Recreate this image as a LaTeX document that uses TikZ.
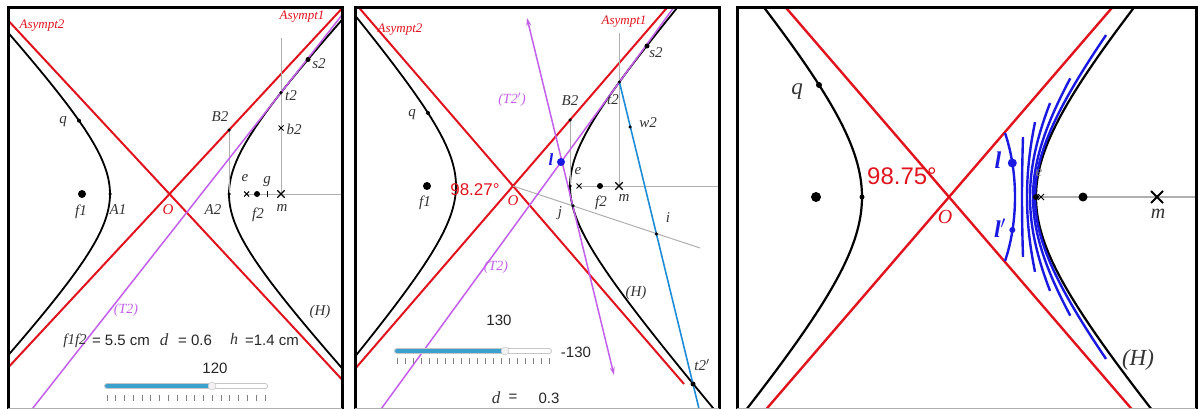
\documentclass[tikz,border=0pt]{standalone}
\usepackage{fontspec}
\setmainfont{Liberation Serif}
\setsansfont{Liberation Sans}
\usetikzlibrary{shapes.misc,arrows.meta}
\newcommand\fsz[1]{\fontsize{#1}{#1}\selectfont}
\definecolor{ared}{RGB}{225,20,30}
\definecolor{tpurp}{RGB}{195,95,235}
\definecolor{lblue}{RGB}{30,140,215}
\definecolor{dblue}{RGB}{25,25,225}
\definecolor{lgray}{RGB}{175,175,175}
\definecolor{sblue}{RGB}{60,160,205}
\begin{document}
\begin{tikzpicture}[x=1pt,y=-1pt,
  asym/.style={draw=ared,line width=2pt},
  hyp/.style={draw=black,line width=1.8pt},
  gline/.style={draw=lgray,line width=1pt},
  purp/.style={draw=tpurp,line width=1.5pt},
  frm/.style={draw=black,line width=3pt},
  dot/.style={circle,fill=black,inner sep=0pt,minimum size=4pt},
  bigdot/.style={circle,fill=black,inner sep=0pt,minimum size=8pt},
  crossmk/.style={cross out,draw=black,line width=1.3pt,inner sep=0pt,minimum size=6pt},
  smallx/.style={cross out,draw=black,line width=1pt,inner sep=0pt,minimum size=4pt},
  lab/.style={font=\fsz{15}\itshape,text=black!80,inner sep=0pt},
  rlab/.style={font=\fsz{13}\itshape,text=ared,inner sep=0pt},
  num/.style={font=\fsz{15}\sffamily,text=black!85,inner sep=0pt},
  bcurve/.style={draw=dblue,line width=2.4pt}]
\useasboundingbox (0,0) rectangle (1198,409);
\fill[white] (0,0) rectangle (1198,409);

% ================= PANEL 1 =================
\coordinate (O1) at (169.5,194);
\coordinate (A1a) at (110,194);
\coordinate (A2a) at (229,194);
\coordinate (B2a) at (229,130);
\coordinate (t2a) at (281,92.6);
\coordinate (s2a) at (308,59.5);
\coordinate (qa) at (79,120.7);
\coordinate (f1a) at (82,194);
\coordinate (f2a) at (257,194);
\coordinate (ea) at (246.7,194);
\coordinate (ga) at (267,194);
\coordinate (ma) at (281,194);
\coordinate (b2a) at (281,128);
\coordinate (vtopa) at (281,38);
\coordinate (rfa) at (342,194);
\coordinate (T2ua) at (375.3,-27.3);
\coordinate (T2da) at (-1.9,452.3);
\begin{scope}
\clip (8,8) rectangle (342,409);
\draw[asym] ({169.5-3*59.5},{194+3*64}) -- ({169.5+3*59.5},{194-3*64});
\draw[asym] ({169.5-3*59.5},{194-3*64}) -- ({169.5+3*59.5},{194+3*64});
\draw[hyp] plot[domain=-2.3:2.3,samples=90,variable=\t] ({169.5+59.5*cosh(\t)},{194+64*sinh(\t)});
\draw[hyp] plot[domain=-2.3:2.3,samples=90,variable=\t] ({169.5-59.5*cosh(\t)},{194+64*sinh(\t)});
\draw[gline] (B2a) -- (A2a);
\draw[gline] (vtopa) -- (ma);
\draw[gline] (ea) -- (rfa);
\draw[purp] (T2ua) -- (T2da);
\end{scope}
\draw[frm] (8,412) -- (8,8) -- (342,8) -- (342,412);
\node[dot] (nqa) at (qa) {};
\node[dot,minimum size=3.5pt] (nA1a) at (A1a) {};
\node[dot,minimum size=3.5pt] (nA2a) at (A2a) {};
\node[dot,minimum size=3.5pt] (nB2a) at (B2a) {};
\node[dot,minimum size=3.5pt] (nt2a) at (t2a) {};
\node[dot,minimum size=5pt] (ns2a) at (s2a) {};
\node[bigdot] (nf1a) at (f1a) {};
\node[dot,minimum size=6pt] (nf2a) at (f2a) {};
\node[smallx] (nea) at (ea) {};
\draw[line width=1pt] (ga) ++(0,-3) -- ++(0,6);
\node[crossmk] (nma) at (ma) {};
\node[smallx] (nb2a) at (b2a) {};
\node[rlab] (lAs2a) at (42,26) {Asympt2};
\node[rlab] (lAs1a) at (302,17) {Asympt1};
\node[lab] (ls2a) at (319,64) {s2};
\node[lab] (lt2a) at (291,96) {t2};
\node[lab] (lB2a) at (220,117) {B2};
\node[lab] (lb2a) at (294,129) {b2};
\node[lab] (lqa) at (63,122) {q};
\node[lab] (lf1a) at (81,212) {f1};
\node[lab] (lA1a) at (118,210) {A1};
\node[lab,text=ared] (lOa) at (168,210) {O};
\node[lab] (lA2a) at (213,210) {A2};
\node[lab] (lf2a) at (258,215) {f2};
\node[lab] (lma) at (282,208) {m};
\node[lab] (lea) at (245,178) {e};
\node[lab] (lga) at (267,182) {g};
\node[lab] (lHa) at (320,312) {(H)};
\node[lab,font=\fsz{14}\itshape,text=tpurp] (lT2a) at (126,310) {(T2)};
\node[lab] (lf1f2) at (75,341) {f1f2};
\node[num] (lv1) at (121,340) {= 5.5 cm};
\node[lab,font=\fsz{17}\itshape] (ld1) at (164,340) {d};
\node[num] (lv2) at (195,340) {= 0.6};
\node[lab,font=\fsz{16}\itshape] (lh1) at (234,339) {h};
\node[num] (lv3) at (272,340) {=1.4 cm};
\node[num] (l120) at (215,368) {120};
\draw[line width=6pt,line cap=round,draw=gray!45] (107,386) -- (265,386);
\draw[line width=4pt,line cap=round,draw=white] (107,386) -- (265,386);
\draw[line width=4pt,line cap=round,draw=sblue] (107,386) -- (212,386);
\node[circle,fill=gray!10,draw=gray!50,inner sep=0pt,minimum size=8pt] (kn1) at (212,386) {};
\foreach \i in {0,...,18} \draw[gray,line width=0.8pt] ({107+\i*158/18},395) -- ++(0,6);

% ================= PANEL 2 =================
\coordinate (O2) at (513,186);
\coordinate (B2b) at (570,120);
\coordinate (A2b) at (570,186);
\coordinate (t2b) at (619.4,82);
\coordinate (s2b) at (647,46);
\coordinate (w2b) at (630,127);
\coordinate (qb) at (428,113);
\coordinate (f1b) at (427,186);
\coordinate (f2b) at (600,186);
\coordinate (eb) at (579,186);
\coordinate (mb) at (619,186);
\coordinate (lb) at (561,162);
\coordinate (jb) at (573,205.9);
\coordinate (ib) at (656.4,234);
\coordinate (t2pb) at (693,384);
\coordinate (vtopb) at (619,33);
\coordinate (rfb) at (719,186);
\coordinate (gendb) at (700,248);
\coordinate (T2ub) at (709.2,-41.2);
\coordinate (T2db) at (350,451.6);
\coordinate (Tpu) at (527,18);
\coordinate (Tpd) at (614,375);
\coordinate (blend) at (707.7,444.4);
\begin{scope}
\clip (355,8) rectangle (719,409);
\draw[asym] ({513-3*57},{186+3*66}) -- ({513+3*57},{186-3*66});
\draw[asym] ({513-3*57},{186-3*66}) -- ({513+3*57},{186+3*66});
\draw[hyp] plot[domain=-2.3:2.3,samples=90,variable=\t] ({513+57*cosh(\t)},{186+66*sinh(\t)});
\draw[hyp] plot[domain=-2.3:2.3,samples=90,variable=\t] ({513-57*cosh(\t)},{186+66*sinh(\t)});
\draw[gline] (B2b) -- (A2b);
\draw[gline] (vtopb) -- (mb);
\draw[gline] (eb) -- (rfb);
\draw[gline] (O2) -- (gendb);
\draw[purp] (T2ub) -- (T2db);
\draw[purp,{Stealth[length=8pt,width=5pt]}-{Stealth[length=8pt,width=5pt]}] (Tpu) -- (Tpd);
\draw[draw=lblue,line width=1.6pt] (t2b) -- (blend);
\end{scope}
\draw[frm] (355,412) -- (355,8) -- (719,8) -- (719,412);
\node[dot] (nqb) at (qb) {};
\node[dot,minimum size=3.5pt] (nA2b) at (A2b) {};
\node[dot,minimum size=3.5pt] (nB2b) at (B2b) {};
\node[dot,minimum size=3.5pt] (nt2b) at (t2b) {};
\node[dot,minimum size=5pt] (ns2b) at (s2b) {};
\node[dot,minimum size=3.5pt] (nw2b) at (w2b) {};
\node[dot,minimum size=3.5pt] (njb) at (jb) {};
\node[dot,minimum size=3.5pt] (nib) at (ib) {};
\node[dot,minimum size=5pt] (nt2pb) at (t2pb) {};
\node[bigdot] (nf1b) at (f1b) {};
\node[dot,minimum size=6pt] (nf2b) at (f2b) {};
\node[smallx] (neb) at (eb) {};
\node[crossmk] (nmb) at (mb) {};
\node[circle,fill=dblue,inner sep=0pt,minimum size=8pt] (nlb) at (lb) {};
\node[rlab] (lAs2b) at (400,30) {Asympt2};
\node[rlab] (lAs1b) at (624,22) {Asympt1};
\node[lab] (ls2b) at (656,53) {s2};
\node[lab] (lt2b) at (613,100) {t2};
\node[lab] (lB2b) at (570,101) {B2};
\node[lab] (lw2b) at (648,123) {w2};
\node[lab] (lqb) at (412,115) {q};
\node[lab] (leb) at (578,171) {e};
\node[num,font=\fsz{17}\sffamily,text=ared] (ang2) at (475,190) {98.27°};
\node[lab,text=ared] (lOb) at (513,201) {O};
\node[lab] (lf1b) at (425,203) {f1};
\node[lab] (ljb) at (560,213) {j};
\node[lab] (lf2b) at (601,203) {f2};
\node[lab] (lmb) at (624,198) {m};
\node[lab] (lib) at (668,218) {i};
\node[lab] (lHb) at (636,293) {(H)};
\node[lab] (lt2pb) at (702,365) {t2$'$};
\node[lab,font=\fsz{14}\itshape,text=tpurp] (lT2pb) at (512,100) {(T2$'$)};
\node[lab,font=\fsz{14}\itshape,text=tpurp] (lT2b) at (496,267) {(T2)};
\node[lab,font=\fsz{17}\bfseries\itshape,text=dblue] (llb) at (551,160) {l};
\node[num] (l130) at (499,320) {130};
\node[num] (lm130) at (576,352) {-130};
\draw[line width=6pt,line cap=round,draw=gray!45] (397,351) -- (549,351);
\draw[line width=4pt,line cap=round,draw=white] (397,351) -- (549,351);
\draw[line width=4pt,line cap=round,draw=sblue] (397,351) -- (505,351);
\node[circle,fill=gray!10,draw=gray!50,inner sep=0pt,minimum size=8pt] (kn2) at (505,351) {};
\foreach \i in {0,...,19} \draw[gray,line width=0.8pt] ({397+\i*152/19},358) -- ++(0,6);
\node[lab,font=\fsz{17}\itshape] (ld2) at (496,398) {d};
\node[num] (leq2) at (513,398) {=};
\node[num] (lv4) at (549,398) {0.3};

% ================= PANEL 3 =================
\coordinate (O3) at (949,197);
\coordinate (qc) at (819,85);
\coordinate (A1c) at (862,197);
\coordinate (f1c) at (816,197);
\coordinate (ec) at (1036,197);
\coordinate (exc) at (1041,197);
\coordinate (f2c) at (1083,197);
\coordinate (mc) at (1157,197);
\coordinate (rfc) at (1196,197);
\coordinate (lc) at (1012.3,163);
\coordinate (lpc) at (1012.3,230);
\begin{scope}
\clip (737,8) rectangle (1196,409);
\draw[asym,line width=2.4pt] ({949-3*87},{197+3*101}) -- ({949+3*87},{197-3*101});
\draw[asym,line width=2.4pt] ({949-3*87},{197-3*101}) -- ({949+3*87},{197+3*101});
\draw[hyp,line width=2.2pt] plot[domain=-1.9:1.9,samples=90,variable=\t] ({949+87*cosh(\t)},{197+101*sinh(\t)});
\draw[hyp,line width=2.2pt] plot[domain=-1.9:1.9,samples=90,variable=\t] ({949-87*cosh(\t)},{197+101*sinh(\t)});
\draw[gline,line width=1.2pt] (ec) -- (rfc);
\draw[bcurve] plot[domain=-32:32,samples=40,variable=\s] ({949+66*cos(\s)},{197+121*sin(\s)});
\draw[bcurve] plot[domain=-0.165:0.165,samples=20,variable=\t] ({949+73*cosh(\t)},{197+362*sinh(\t)});
\draw[bcurve] plot[domain=-0.45:0.45,samples=30,variable=\t] ({949+78*cosh(\t)},{197+161*sinh(\t)});
\draw[bcurve] plot[domain=-0.69:0.69,samples=40,variable=\t] ({949+81*cosh(\t)},{197+126*sinh(\t)});
\draw[bcurve] plot[domain=-0.91:0.91,samples=50,variable=\t] ({949+84*cosh(\t)},{197+114*sinh(\t)});
\draw[bcurve] plot[domain=-1.21:1.21,samples=60,variable=\t] ({949+86*cosh(\t)},{197+106*sinh(\t)});
\end{scope}
\draw[frm] (737,412) -- (737,8) -- (1196,8) -- (1196,412);
\node[dot,minimum size=6pt] (nqc) at (qc) {};
\node[dot,minimum size=5pt] (nA1c) at (A1c) {};
\node[bigdot,minimum size=10pt] (nf1c) at (f1c) {};
\node[dot,minimum size=6pt] (nec) at (ec) {};
\node[smallx,minimum size=5pt] (nexc) at (exc) {};
\node[dot,minimum size=9pt] (nf2c) at (f2c) {};
\node[crossmk,minimum size=10pt,line width=2pt] (nmc) at (mc) {};
\node[circle,fill=dblue,inner sep=0pt,minimum size=9pt] (nlc) at (lc) {};
\node[circle,fill=dblue,inner sep=0pt,minimum size=6pt] (nlpc) at (lpc) {};
\node[lab,font=\fsz{23}\itshape] (lqc) at (797,92) {q};
\node[num,font=\fsz{24}\sffamily,text=ared] (ang3) at (902,176) {98.75°};
\node[lab,font=\fsz{20}\itshape,text=ared] (lOc) at (945,217) {O};
\node[lab,font=\fsz{15}\itshape,text=gray] (lec) at (1039,173) {e};
\node[lab,font=\fsz{20}\itshape] (lmc) at (1158,214) {m};
\node[lab,font=\fsz{23}\itshape] (lHc) at (1138,360) {(H)};
\node[lab,font=\fsz{24}\bfseries\itshape,text=dblue] (llc) at (998,160) {l};
\node[lab,font=\fsz{24}\bfseries\itshape,text=dblue] (llpc) at (1000,228) {l$'$};
\draw[lgray,line width=0.8pt] (8,408.5) -- (342,408.5) (355,408.5) -- (719,408.5) (737,408.5) -- (1196,408.5);
\end{tikzpicture}
\end{document}
